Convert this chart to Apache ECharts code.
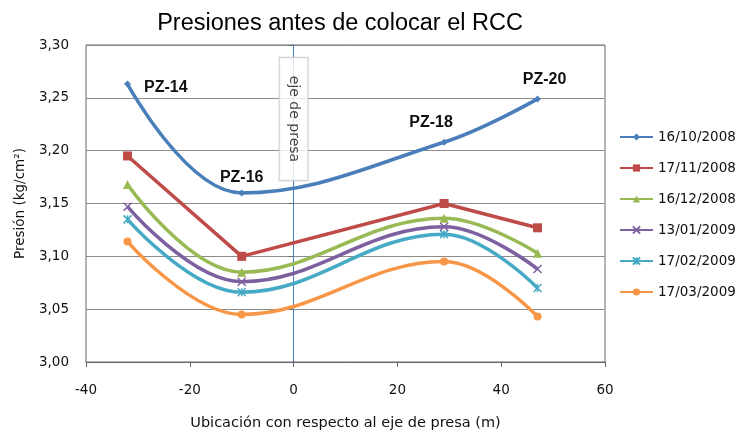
<!DOCTYPE html>
<html lang="es">
<head>
	<meta charset="UTF-8">
	<title>Presiones antes de colocar el RCC</title>
	<script src="https://cdn.jsdelivr.net/npm/echarts@6/dist/echarts.min.js"></script>
	<style>
		html, body { margin: 0; padding: 0; background: #fff; }
	</style>
</head>
<body>
	<div id="chart" style="width: 739px; height: 431px;"></div>
	<script type="text/javascript">

		// ubicacion de los piezometros (m)
		const ubicacion = [-32, -10, 29, 47];
		const piezometros = ['PZ-14', 'PZ-16', 'PZ-18', 'PZ-20'];

		const fechas = ['16/10/2008', '17/11/2008', '16/12/2008', '13/01/2009', '17/02/2009', '17/03/2009'];

		const p161008 = [3.263, 3.160, 3.208, 3.249];
		const p171108 = [3.195, 3.100, 3.150, 3.127];
		const p161208 = [3.168, 3.085, 3.136, 3.103];
		const p130109 = [3.147, 3.076, 3.128, 3.088];
		const p170209 = [3.135, 3.066, 3.121, 3.070];
		const p170309 = [3.114, 3.045, 3.095, 3.043];

		const valores = [p161008, p171108, p161208, p130109, p170209, p170309];

		const colores = ['#4A7EBB', '#BE4B48', '#98B954', '#7D60A0', '#46AAC5', '#F79646'];
		const simbolos = [
			'diamond', 'rect', 'triangle',
			'path://M0,0L10,10M10,0L0,10',
			'path://M0,0L10,10M10,0L0,10M5,0L5,10',
			'circle'
		];
		const tamanos = [7, 9, 9, 8, 8, 8];
		const suave = [0.4, false, 0.4, 0.4, 0.4, 0.4];

		// posiciones de las etiquetas de piezometros
		const posEtiqueta = ['right', 'top', 'top', 'top'];
		const despEtiqueta = [[-1, 3], [0, 0], [-13, -4], [7, -4]];

		const chart = echarts.init(document.getElementById('chart'));

		const series = fechas.map((f, i) => ({
			name: f,
			type: 'line',
			smooth: suave[i],
			symbol: simbolos[i],
			symbolSize: tamanos[i],
			showAllSymbol: true,
			lineStyle: { width: 3.5, color: colores[i] },
			itemStyle: { color: colores[i], borderColor: colores[i], borderWidth: i === 3 || i === 4 ? 1.5 : 0 },
			z: 10 - i,
			data: ubicacion.map((x, j) => {
				const item = { value: [x, valores[i][j]] };
				if (i === 0) {
					item.label = {
						show: true,
						formatter: piezometros[j],
						position: posEtiqueta[j],
						distance: j === 0 ? 14 : 4,
						offset: despEtiqueta[j],
						fontFamily: 'Liberation Sans',
						fontWeight: 'bold',
						fontSize: 16,
						color: '#111'
					};
				}
				return item;
			}),
			markLine: i === 0 ? {
				silent: true,
				symbol: 'none',
				label: { show: false },
				lineStyle: { color: '#4A7EBB', width: 1, type: 'solid' },
				data: [{ xAxis: 0 }]
			} : undefined
		}));

		// caja "eje de presa"
		series.push({
			name: 'eje',
			type: 'scatter',
			symbolSize: 0,
			z: 20,
			silent: true,
			data: [[0, 3.23]],
			label: {
				show: true,
				position: 'inside',
				rotate: -90,
				formatter: 'eje de presa',
				fontFamily: 'DejaVu Sans',
				fontSize: 14,
				color: '#111',
				backgroundColor: '#fff',
				borderColor: '#bdbdbd',
				borderWidth: 1,
				padding: [7, 18]
			}
		});

		chart.setOption({
			animation: false,
			title: {
				text: 'Presiones antes de colocar el RCC',
				left: 335,
				top: 7,
				textAlign: 'center',
				textStyle: {
					fontFamily: 'Liberation Sans',
					fontWeight: 'normal',
					fontSize: 23.5,
					color: '#000'
				}
			},
			legend: {
				data: fechas,
				orient: 'vertical',
				left: 614,
				top: 125,
				itemGap: 17,
				itemWidth: 33,
				itemHeight: 9,
				textStyle: { fontFamily: 'DejaVu Sans', fontSize: 13.5, color: '#111' }
			},
			grid: {
				left: 86,
				right: 134,
				top: 45,
				bottom: 69,
				show: true,
				borderColor: '#666',
				borderWidth: 1,
				outerBoundsMode: 'none'
			},
			xAxis: {
				type: 'value',
				min: -40,
				max: 60,
				interval: 20,
				name: 'Ubicación con respecto al eje de presa (m)',
				nameLocation: 'middle',
				nameGap: 54,
				nameTextStyle: { fontFamily: 'DejaVu Sans', fontSize: 14.5, color: '#111' },
				axisLine: { lineStyle: { color: '#666' } },
				axisTick: { show: true, length: 5, lineStyle: { color: '#666' } },
				axisLabel: { fontFamily: 'DejaVu Sans', fontSize: 13.5, color: '#111', margin: 21 },
				splitLine: { show: false }
			},
			yAxis: {
				type: 'value',
				min: 3.0,
				max: 3.3,
				interval: 0.05,
				name: 'Presión (kg/cm²)',
				nameLocation: 'middle',
				nameGap: 59,
				nameRotate: 90,
				nameTextStyle: { fontFamily: 'DejaVu Sans', fontSize: 13.5, color: '#111' },
				axisLine: { show: true, lineStyle: { color: '#666' } },
				axisTick: { show: true, length: 5, lineStyle: { color: '#666' } },
				axisLabel: {
					fontFamily: 'DejaVu Sans',
					fontSize: 13.5,
					color: '#111',
					margin: 17,
					formatter: v => v.toFixed(2).replace('.', ',')
				},
				splitLine: { lineStyle: { color: '#8c8c8c', width: 1 } }
			},
			series: series
		});
	</script>
</body>
</html>
